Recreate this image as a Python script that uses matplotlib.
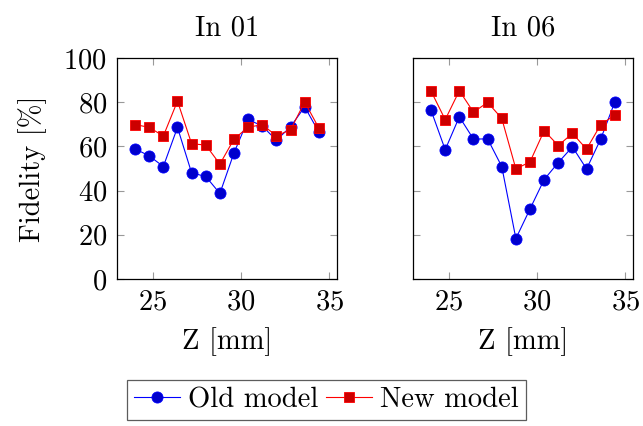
import matplotlib
matplotlib.use("Agg")
import matplotlib.pyplot as plt
from matplotlib.lines import Line2D

plt.rcParams['font.family'] = ['cmr10', 'DejaVu Serif']
plt.rcParams['mathtext.fontset'] = 'cm'
plt.rcParams['axes.formatter.use_mathtext'] = True

# Z positions (mm)
z_mm = [24.0, 24.8, 25.6, 26.4, 27.2, 28.0, 28.8, 29.6, 30.4, 31.2, 32.0, 32.8, 33.6, 34.4]

# Fidelity (%) per input
in01_old = [58.9, 55.7, 50.9, 68.6, 48.0, 46.4, 38.7, 57.1, 72.2, 69.2, 62.8, 68.9, 77.9, 66.5]
in01_new = [69.9, 68.6, 64.7, 80.5, 61.2, 60.6, 52.0, 63.3, 68.7, 69.8, 64.8, 67.5, 80.1, 68.3]
in06_old = [76.3, 58.5, 73.4, 63.3, 63.4, 50.9, 18.3, 31.7, 45.0, 52.7, 59.8, 49.8, 63.3, 80.1]
in06_new = [85.0, 72.1, 85.2, 75.5, 79.9, 72.7, 49.8, 53.0, 67.1, 60.4, 65.9, 58.8, 69.8, 74.2]

panels = [("In 01", in01_old, in01_new), ("In 06", in06_old, in06_new)]
series_labels = ["Old model", "New model"]
x_ticks = [25, 30, 35]
y_ticks = [0, 20, 40, 60, 80, 100]

FS = 20.6
W, H = 643, 426
fig = plt.figure(figsize=(W / 100, H / 100), dpi=100)

ax_left = [116.7, 412.7]
ax_w, ax_top, ax_bot = 220.5, 58.0, 279.0

span = z_mm[-1] - z_mm[0]
xlim = (z_mm[0] - 0.1 * span, z_mm[-1] + 0.1 * span)

old_style = dict(color='blue', marker='o', markersize=8, markerfacecolor='#0000cc',
                 markeredgecolor='blue', markeredgewidth=0.6, linewidth=0.8)
new_style = dict(color='red', marker='s', markersize=7.5, markerfacecolor='#cc0000',
                 markeredgecolor='red', markeredgewidth=0.6, linewidth=0.8)

for i, (title, old, new) in enumerate(panels):
    ax = fig.add_axes([ax_left[i] / W, 1 - ax_bot / H, ax_w / W, (ax_bot - ax_top) / H])
    ax.plot(z_mm, old, **old_style, zorder=3)
    ax.plot(z_mm, new, **new_style, zorder=4)
    ax.set_xlim(*xlim)
    ax.set_ylim(0, 100)
    ax.set_xticks(x_ticks)
    ax.set_yticks(y_ticks)
    ax.tick_params(direction='in', length=5, width=0.8, color='#999999',
                   top=True, right=True, labelsize=FS, pad=7)
    for sp in ax.spines.values():
        sp.set_linewidth(0.9)
    ax.set_title(title, fontsize=FS, pad=16)
    ax.set_xlabel("Z [mm]", fontsize=FS, labelpad=9)
    if i == 0:
        ax.set_ylabel("Fidelity [%]", fontsize=FS, labelpad=12)
    else:
        ax.tick_params(labelleft=False)

handles = [Line2D([], [], **old_style), Line2D([], [], **new_style)]
leg = fig.legend(handles, series_labels, loc='center', bbox_to_anchor=(326.5 / W, 1 - 400 / H),
                 ncol=2, fontsize=FS, frameon=True, fancybox=False, handlelength=1.6,
                 handletextpad=0.3, columnspacing=0.25, borderpad=0.25, borderaxespad=0)
leg.get_frame().set_edgecolor('#333333')
leg.get_frame().set_linewidth(0.9)

fig.savefig("out.png", dpi=100)
